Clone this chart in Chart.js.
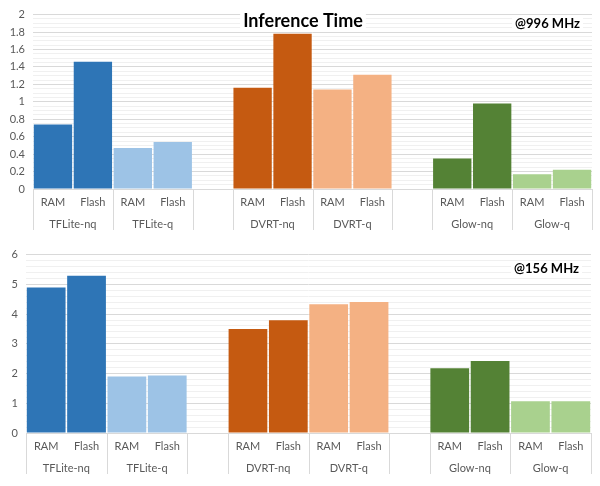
<!DOCTYPE html>
<html>
<head>
<meta charset="utf-8">
<script src="https://cdn.jsdelivr.net/npm/chart.js@4.4.0/dist/chart.umd.min.js"></script>
<style>
  body { margin: 0; background: #fff; }
  .box { position: absolute; left: 0; width: 600px; }
</style>
</head>
<body>
<div class="box" style="top:0;height:240px"><canvas id="top"></canvas></div>
<div class="box" style="top:240px;height:246px"><canvas id="bottom"></canvas></div>
<script>
// slots on the x axis (gap slots are empty)
var slotLabels = ['RAM', 'Flash', 'RAM', 'Flash', '', 'RAM', 'Flash', 'RAM', 'Flash', '', 'RAM', 'Flash', 'RAM', 'Flash'];
var groupNames = ['TFLite-nq', 'TFLite-q', '', 'DVRT-nq', 'DVRT-q', '', 'Glow-nq', 'Glow-q'];
var groupSpans = [2, 2, 1, 2, 2, 1, 2, 2];
var groupColors = ['#2E75B6', '#9DC3E6', null, '#C55A11', '#F4B183', null, '#548235', '#A9D18E'];

// inference time values
var time996 = [0.74, 1.46, 0.47, 0.54, null, 1.16, 1.78, 1.14, 1.31, null, 0.35, 0.98, 0.17, 0.22];
var time156 = [4.89, 5.29, 1.90, 1.93, null, 3.50, 3.79, 4.33, 4.41, null, 2.18, 2.42, 1.07, 1.07];

var chartTitle = 'Inference Time';
var labelFont = 'Lato, "Open Sans", sans-serif';
var gridMajor = '#d9d9d9';
var gridMinor = '#f0f0f0';

// one colour per slot, taken from its group
function slotColors() {
    var colors = [];
    for (var g = 0; g < groupSpans.length; g++) {
        for (var k = 0; k < groupSpans[g]; k++) {
            colors.push(groupColors[g] || 'rgba(0,0,0,0)');
        }
    }
    return colors;
}

// group names, separators, title and frequency note
function notesPlugin(title, freq, freqY) {
    return {
        id: 'notes',
        afterDraw: function(chart) {
            var ctx = chart.ctx;
            var area = chart.chartArea;
            var x = chart.scales.x;
            var half = (x.getPixelForValue(1) - x.getPixelForValue(0)) / 2;
            ctx.save();
            ctx.strokeStyle = gridMajor;
            ctx.lineWidth = 1;
            var slot = 0;
            for (var g = 0; g <= groupSpans.length; g++) {
                var edge = x.getPixelForValue(slot) - half;
                if (g == groupSpans.length) edge = x.getPixelForValue(slot - 1) + half;
                ctx.beginPath();
                ctx.moveTo(Math.round(edge) + 0.5, area.bottom);
                ctx.lineTo(Math.round(edge) + 0.5, area.bottom + 41);
                ctx.stroke();
                if (g < groupSpans.length && groupNames[g]) {
                    var mid = edge + groupSpans[g] * half;
                    ctx.fillStyle = '#595959';
                    ctx.font = '11px ' + labelFont;
                    ctx.textAlign = 'center';
                    ctx.textBaseline = 'middle';
                    ctx.fillText(groupNames[g], mid, area.bottom + 35);
                }
                if (g < groupSpans.length) slot += groupSpans[g];
            }

            ctx.textBaseline = 'middle';
            if (title) {
                ctx.font = 'bold 18px ' + labelFont;
                var w = ctx.measureText(title).width;
                ctx.fillStyle = '#fff';
                ctx.fillRect(303 - w / 2 - 3, 11, w + 6, 20);
                ctx.fillStyle = '#000';
                ctx.textAlign = 'center';
                ctx.fillText(title, 303, 21);
            }
            ctx.font = 'bold 13px ' + labelFont;
            var fw = ctx.measureText(freq).width;
            ctx.fillStyle = '#fff';
            ctx.fillRect(area.right - 12 - fw - 3, freqY - 8, fw + 6, 16);
            ctx.fillStyle = '#000';
            ctx.textAlign = 'right';
            ctx.fillText(freq, area.right - 12, freqY);
            ctx.restore();
        }
    };
}

function makeChart(id, values, yMax, major, minor, yWidth, pad, title, freq, freqY) {
    var isMajor = function(v) {
        return Math.abs(v / major - Math.round(v / major)) < 1e-6;
    };
    return new Chart(document.getElementById(id), {
        type: 'bar',
        data: {
            labels: slotLabels,
            datasets: [{
                data: values,
                backgroundColor: slotColors(),
                barPercentage: 0.96,
                categoryPercentage: 1
            }]
        },
        options: {
            responsive: true,
            maintainAspectRatio: false,
            animation: false,
            layout: { padding: pad },
            plugins: {
                legend: { display: false },
                tooltip: { enabled: false }
            },
            scales: {
                x: {
                    grid: { display: false, drawTicks: false },
                    border: { color: gridMajor },
                    ticks: {
                        autoSkip: false,
                        maxRotation: 0,
                        padding: 7,
                        color: '#595959',
                        font: { family: labelFont, size: 11 }
                    },
                    afterFit: function(scale) { scale.height = 45; }
                },
                y: {
                    min: 0,
                    max: yMax,
                    border: { display: false },
                    grid: {
                        drawTicks: false,
                        color: function(c) { return isMajor(c.tick.value) ? gridMajor : gridMinor; }
                    },
                    ticks: {
                        stepSize: minor,
                        maxTicksLimit: 100,
                        autoSkip: false,
                        padding: 8,
                        color: '#595959',
                        font: { family: labelFont, size: 11 },
                        callback: function(v) {
                            return isMajor(v) ? String(Math.round(v * 10) / 10) : '';
                        }
                    },
                    afterFit: function(scale) { scale.width = yWidth; }
                }
            }
        },
        plugins: [notesPlugin(title, freq, freqY)]
    });
}

makeChart('top', time996, 2, 0.2, 0.05, 33, { top: 13, bottom: 6, right: 8, left: 0 }, chartTitle, '@996 MHz', 24);
makeChart('bottom', time156, 6, 1, 0.2, 26, { top: 10, bottom: 8, right: 9, left: 0 }, null, '@156 MHz', 29);
</script>
</body>
</html>
